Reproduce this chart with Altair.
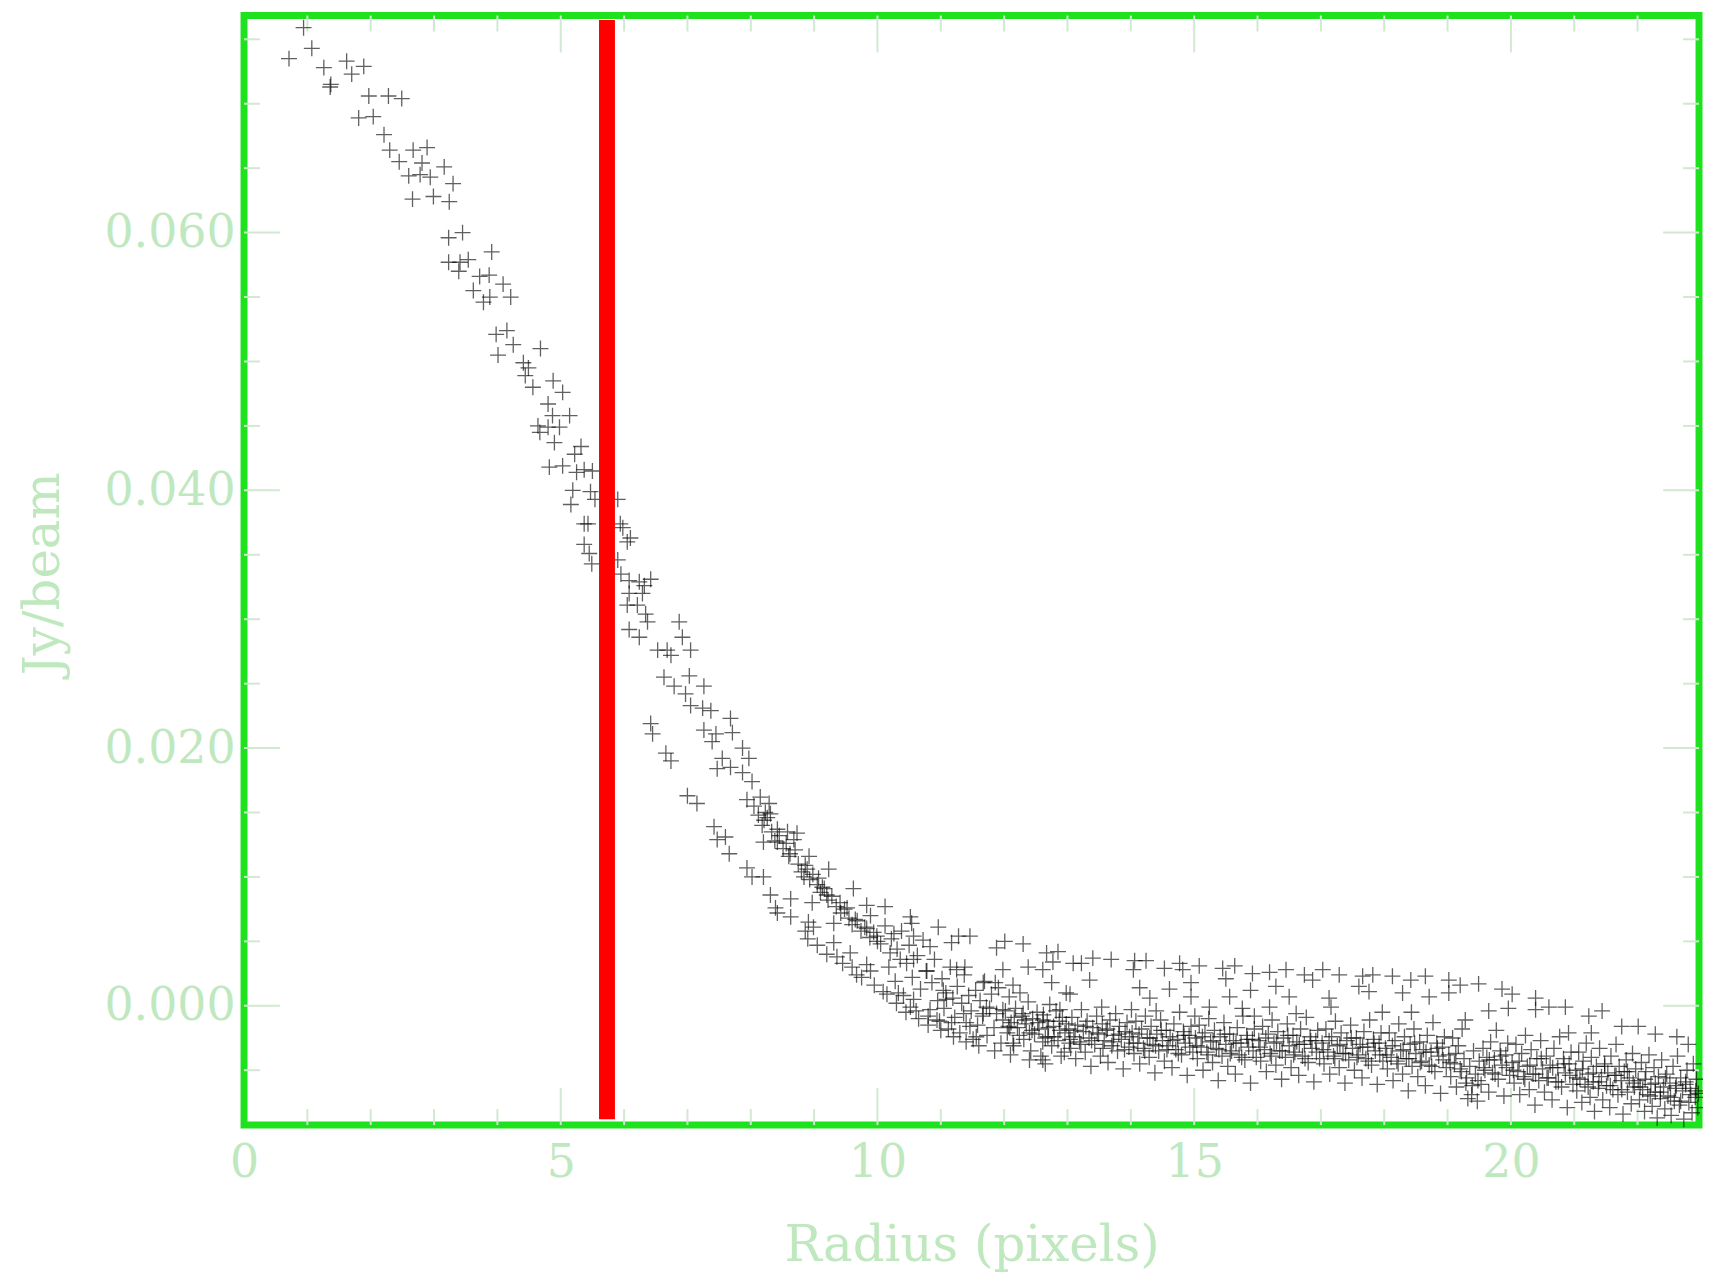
import altair as alt
import pandas as pd

# ---------------- data ----------------
x_label_values = [0, 5, 10, 15, 20]
y_label_values = [0.0, 0.02, 0.04, 0.06]
x_major_ticks = [5, 10, 15, 20]
x_minor_ticks = [1, 2, 3, 4, 6, 7, 8, 9, 11, 12, 13, 14, 16, 17, 18, 19, 21, 22]
y_major_ticks = [0.0, 0.02, 0.04, 0.06]
y_minor_ticks = [-0.005, 0.005, 0.01, 0.015, 0.025, 0.03, 0.035, 0.045, 0.05, 0.055, 0.065, 0.07, 0.075]

marker_radius_x = [5.73]
marker_y_top = [0.0765]
marker_y_bottom = [-0.0088]

core = [
    (0.94,0.0759),(1.07,0.0743),(0.71,0.0735),(1.26,0.0728),(1.62,0.0733),(1.89,0.0729),(1.70,0.0723),
    (1.37,0.0715),(1.36,0.0713),(1.97,0.0706),(2.28,0.0706),(2.49,0.0704),(1.81,0.0689),(2.04,0.0690),
    (2.21,0.0676),(2.30,0.0664),(2.67,0.0664),(2.89,0.0666),(2.45,0.0655),(2.81,0.0654),(3.16,0.0651),
    (2.60,0.0644),(2.78,0.0645),(2.94,0.0643),(3.30,0.0638),(2.66,0.0626),(2.99,0.0628),(3.24,0.0624),
    (3.23,0.0596),(3.45,0.0600),(3.23,0.0577),(3.41,0.0577),(3.54,0.0579),(3.91,0.0585),(3.39,0.0570),
    (3.72,0.0566),(3.87,0.0567),(4.09,0.0560),(3.62,0.0555),(3.88,0.0550),(3.78,0.0546),(4.21,0.0550),
    (3.98,0.0521),(4.15,0.0524),(4.25,0.0513),(4.68,0.0510),(4.01,0.0505),(4.41,0.0499),(4.49,0.0495),
    (4.44,0.0489),(4.56,0.0480),(4.88,0.0485),(5.03,0.0476),
]

slope = [
    (4.80,0.0467),(4.87,0.0458),(5.14,0.0458),(4.64,0.0450),(4.80,0.0449),(4.98,0.0449),(4.67,0.0445),
    (4.90,0.0437),(5.32,0.0434),(5.22,0.0428),(4.82,0.0418),(5.03,0.0419),(5.25,0.0414),(5.37,0.0416),
    (5.50,0.0415),(5.19,0.0400),(5.47,0.0399),(5.54,0.0393),(5.16,0.0389),(5.90,0.0393),(5.43,0.0374),
    (5.37,0.0374),(5.94,0.0374),(5.98,0.0371),(6.10,0.0363),(6.05,0.0360),(5.37,0.0358),(5.45,0.0351),
    (5.49,0.0343),(5.90,0.0346),(5.95,0.0335),(6.08,0.0330),(6.24,0.0329),(6.42,0.0331),(6.32,0.0326),
    (6.08,0.0320),(6.29,0.0320),(6.05,0.0311),(6.21,0.0311),(6.34,0.0304),(6.37,0.0298),(6.08,0.0292),
    (6.24,0.0286),(6.87,0.0298),(6.92,0.0286),(6.53,0.0276),(6.68,0.0276),(6.74,0.0272),(7.05,0.0276),
    (6.63,0.0255),(7.03,0.0256),(6.79,0.0248),(6.97,0.0242),(7.26,0.0248),(7.05,0.0233),(7.24,0.0231),
    (7.37,0.0229),(6.42,0.0219),(6.45,0.0211),(7.68,0.0223),(7.26,0.0214),(7.45,0.0211),(7.71,0.0212),
    (7.39,0.0205),(7.87,0.0200),(6.66,0.0196),(6.74,0.0190),(7.55,0.0192),(7.97,0.0192),(7.47,0.0184),
    (7.68,0.0185),(7.87,0.0181),
]

knee = [
    (7.00,0.0163),(7.15,0.0157),(8.02,0.0174),(7.94,0.0160),(8.15,0.0162),(8.29,0.0157),(8.23,0.0150),
    (8.31,0.0149),(8.21,0.0144),(7.42,0.0139),(7.47,0.0129),(7.60,0.0131),(7.66,0.0118),(8.42,0.0137),
    (8.58,0.0135),(8.73,0.0134),(8.68,0.0129),(8.42,0.0127),(8.20,0.0127),(8.60,0.0116),(8.92,0.0116),
    (7.94,0.0107),(8.02,0.0100),(8.20,0.0100),(8.89,0.0106),(9.23,0.0106),(8.84,0.0100),(9.07,0.0099),
    (9.13,0.0092),(9.62,0.0091),(9.20,0.0086),(8.31,0.0086),(8.63,0.0083),(8.97,0.0080),(9.41,0.0080),
    (9.52,0.0076),(9.83,0.0078),(10.12,0.0077),(8.39,0.0076),(8.42,0.0072),(8.63,0.0069),(8.91,0.0065),
    (8.99,0.0061),(8.86,0.0058),(9.31,0.0064),(9.65,0.0067),(9.89,0.0070),(9.83,0.0060),(9.99,0.0054),
    (10.26,0.0056),(10.52,0.0069),(10.54,0.0064),(10.96,0.0061),(10.57,0.0054),(9.31,0.0049),(9.57,0.0041),
    (9.36,0.0038),(9.83,0.0032),(9.89,0.0027),(9.67,0.0024),(10.20,0.0041),(10.36,0.0036),(10.57,0.0036),
    (10.83,0.0046),(10.78,0.0027),(11.17,0.0049),(11.28,0.0054),(11.46,0.0054),(11.25,0.0028),(11.38,0.0030),
    (11.88,0.0045),(12.01,0.0050),(12.30,0.0048),(12.67,0.0041),(12.85,0.0042),(12.77,0.0034),(12.38,0.0030),
    (12.61,0.0028),(11.98,0.0028),(12.75,0.0018),(12.14,0.0016),(11.86,0.0018),(11.67,0.0018),(10.09,0.0011),
    (10.33,0.0010),(10.57,0.0005),(10.52,-0.0001),(10.83,-0.0003),(11.04,0.0012),(11.09,0.0005),(10.94,-0.0011),
    (11.17,-0.0013),(11.36,-0.0006),(11.46,-0.0016),(11.72,-0.0001),(11.67,-0.0006),(11.56,-0.0024),
    (11.98,-0.0003),(12.09,-0.0017),(12.30,-0.0006),(12.40,-0.0021),(12.14,-0.0029),(12.61,-0.0011),
    (12.69,-0.0024),(12.61,-0.0042),(12.90,-0.0039),(13.03,-0.0029),(12.98,0.0010),(12.88,-0.0003),(13.09,0.0033),
]

upper_arm = [
    (8.05,0.0155),(8.12,0.0148),(8.18,0.0140),(8.26,0.0146),(8.33,0.0135),(8.38,0.0128),(8.45,0.0132),
    (8.51,0.0122),(8.56,0.0126),(8.62,0.0118),(8.70,0.0121),(8.75,0.0110),(8.80,0.0104),(8.86,0.0109),
    (8.93,0.0098),(8.98,0.0102),(9.05,0.0094),(9.10,0.0088),(9.16,0.0091),(9.22,0.0082),(9.28,0.0085),
    (9.35,0.0077),(9.42,0.0072),(9.48,0.0075),(9.55,0.0068),(9.60,0.0063),(9.68,0.0066),(9.74,0.0058),
    (9.80,0.0061),(9.88,0.0053),(9.94,0.0057),(10.00,0.0050),
]

lower_arm = [
    (8.90,0.0052),(9.05,0.0047),(9.20,0.0040),(9.45,0.0033),(9.60,0.0030),(9.75,0.0022),(9.95,0.0016),
    (10.15,0.0009),(10.30,0.0002),(10.45,-0.0005),(10.65,-0.0010),(10.80,-0.0015),(11.00,-0.0019),
    (11.20,-0.0024),(11.40,-0.0028),(11.60,-0.0031),(11.85,-0.0035),(12.10,-0.0038),(12.40,-0.0042),
    (12.65,-0.0045),
]

plateau = [
    (13.22,0.0033),(13.40,0.0037),(13.69,0.0036),(14.06,0.0035),(14.24,0.0035),(14.04,0.0028),(14.53,0.0029),
    (14.77,0.0033),(14.82,0.0028),(15.08,0.0031),(15.45,0.0029),(15.64,0.0031),(15.50,0.0021),(15.92,0.0025),
    (16.19,0.0026),(16.45,0.0028),(16.29,0.0015),(16.74,0.0024),(16.87,0.0020),(17.03,0.0028),(17.29,0.0024),
    (17.66,0.0023),(17.82,0.0024),(17.60,0.0015),(17.76,0.0011),(13.35,0.0020),(13.04,0.0009),(14.14,0.0014),
    (14.30,0.0006),(14.61,0.0013),(14.95,0.0018),(14.95,0.0007),(13.54,-0.0001),(14.01,-0.0003),(14.40,-0.0004),
    (15.24,-0.0001),(15.01,-0.0008),(15.56,0.0007),(15.76,-0.0002),(15.89,0.0012),(16.19,-0.0001),(16.50,0.0007),
    (16.61,-0.0006),(17.16,-0.0001),(17.13,0.0006),(15.95,-0.0008),
    (18.13,0.0023),(18.42,0.0020),(18.65,0.0023),(18.29,0.0010),(18.71,0.0007),(19.02,0.0020),(19.20,0.0016),
    (19.49,0.0017),(19.02,0.0010),(19.86,0.0013),(20.02,0.0009),(19.65,-0.0004),(19.96,-0.0002),(20.39,0.0006),
    (20.60,-0.0001),(20.86,-0.0001),(20.39,-0.0003),(21.23,-0.0008),(21.44,-0.0004),(21.75,-0.0016),
    (22.01,-0.0016),(22.28,-0.0022),(22.62,-0.0024),(22.80,-0.0030),(17.97,-0.0005),(18.43,-0.0005),
    (19.28,-0.0011),(20.91,-0.0021),(21.27,-0.0021),
]

band_10 = [(10.05,0.0048),(10.12,0.0062),(10.18,0.0030),(10.22,0.0052),(10.28,0.0019),(10.31,0.0044),(10.38,0.0058),
           (10.41,0.0008),(10.46,0.0033),(10.50,0.0047),(10.55,0.0022),(10.61,-0.0004),(10.63,0.0039),(10.68,0.0013),
           (10.72,0.0051),(10.77,0.0027),(10.80,-0.0008),(10.86,0.0018),(10.90,0.0036),(10.95,0.0004),(10.98,-0.0012)]
band_11 = [(11.02,0.0021),(11.05,-0.0002),(11.08,0.0010),(11.12,-0.0018),(11.15,0.0030),(11.19,0.0006),(11.22,-0.0009),
           (11.26,0.0015),(11.30,-0.0021),(11.33,0.0002),(11.37,0.0024),(11.40,-0.0013),(11.44,0.0008),(11.48,-0.0004),
           (11.51,-0.0026),(11.55,0.0012),(11.58,-0.0015),(11.62,0.0004),(11.66,-0.0008),(11.69,0.0019),(11.73,-0.0023),
           (11.77,-0.0002),(11.80,0.0009),(11.84,-0.0017),(11.88,-0.0006),(11.91,0.0014),(11.95,-0.0029),(11.98,-0.0011)]
band_12 = [(12.02,-0.0004),(12.05,-0.0021),(12.08,0.0007),(12.11,-0.0013),(12.15,-0.0031),(12.18,-0.0002),(12.21,-0.0017),
           (12.25,0.0010),(12.28,-0.0008),(12.31,-0.0026),(12.35,-0.0014),(12.38,0.0003),(12.42,-0.0035),(12.45,-0.0010),
           (12.48,-0.0022),(12.52,-0.0005),(12.55,-0.0018),(12.58,-0.0039),(12.62,-0.0007),(12.65,-0.0025),(12.68,-0.0012),
           (12.72,0.0001),(12.75,-0.0031),(12.78,-0.0016),(12.82,-0.0004),(12.85,-0.0027),(12.88,-0.0019),(12.92,-0.0009),
           (12.95,-0.0036),(12.98,-0.0014)]
band_13 = [(13.02,-0.0018),(13.05,-0.0033),(13.07,-0.0009),(13.10,-0.0024),(13.13,-0.0041),(13.16,-0.0015),(13.19,-0.0028),
           (13.22,-0.0003),(13.25,-0.0020),(13.28,-0.0036),(13.31,-0.0012),(13.34,-0.0025),(13.37,-0.0047),(13.40,-0.0017),
           (13.43,-0.0030),(13.46,-0.0008),(13.49,-0.0022),(13.52,-0.0039),(13.55,-0.0014),(13.58,-0.0027),(13.61,-0.0019),
           (13.64,-0.0044),(13.67,-0.0011),(13.70,-0.0031),(13.73,-0.0023),(13.76,-0.0006),(13.79,-0.0035),(13.82,-0.0016),
           (13.85,-0.0026),(13.88,-0.0049),(13.91,-0.0020),(13.94,-0.0013),(13.97,-0.0032)]
band_14 = [(14.02,-0.0021),(14.05,-0.0037),(14.08,-0.0012),(14.11,-0.0029),(14.14,-0.0045),(14.17,-0.0018),(14.20,-0.0033),
           (14.23,-0.0008),(14.26,-0.0025),(14.29,-0.0040),(14.32,-0.0016),(14.35,-0.0030),(14.38,-0.0052),(14.41,-0.0022),
           (14.44,-0.0035),(14.47,-0.0011),(14.50,-0.0027),(14.53,-0.0043),(14.56,-0.0019),(14.59,-0.0031),(14.62,-0.0024),
           (14.65,-0.0048),(14.68,-0.0014),(14.71,-0.0034),(14.74,-0.0026),(14.77,-0.0005),(14.80,-0.0038),(14.83,-0.0020),
           (14.86,-0.0029),(14.89,-0.0054),(14.92,-0.0023),(14.95,-0.0016),(14.98,-0.0036)]
band_15 = [(15.02,-0.0025),(15.05,-0.0041),(15.08,-0.0015),(15.11,-0.0032),(15.14,-0.0050),(15.17,-0.0021),(15.20,-0.0036),
           (15.23,-0.0010),(15.26,-0.0028),(15.29,-0.0044),(15.32,-0.0019),(15.35,-0.0033),(15.38,-0.0058),(15.41,-0.0024),
           (15.44,-0.0039),(15.47,-0.0013),(15.50,-0.0030),(15.53,-0.0047),(15.56,-0.0022),(15.59,-0.0035),(15.62,-0.0027),
           (15.65,-0.0053),(15.68,-0.0017),(15.71,-0.0038),(15.74,-0.0029),(15.77,-0.0008),(15.80,-0.0042),(15.83,-0.0023),
           (15.86,-0.0032),(15.89,-0.0060),(15.92,-0.0026),(15.95,-0.0018),(15.98,-0.0040)]
band_16 = [(16.02,-0.0027),(16.05,-0.0043),(16.08,-0.0016),(16.11,-0.0034),(16.14,-0.0051),(16.17,-0.0022),(16.20,-0.0037),
           (16.23,-0.0011),(16.26,-0.0029),(16.29,-0.0046),(16.32,-0.0020),(16.35,-0.0035),(16.38,-0.0057),(16.41,-0.0025),
           (16.44,-0.0040),(16.47,-0.0014),(16.50,-0.0031),(16.53,-0.0048),(16.56,-0.0023),(16.59,-0.0036),(16.62,-0.0028),
           (16.65,-0.0054),(16.68,-0.0018),(16.71,-0.0039),(16.74,-0.0030),(16.77,-0.0009),(16.80,-0.0044),(16.83,-0.0024),
           (16.86,-0.0033),(16.89,-0.0059),(16.92,-0.0027),(16.95,-0.0019),(16.98,-0.0041)]
band_17 = [(17.02,-0.0029),(17.05,-0.0045),(17.08,-0.0018),(17.11,-0.0036),(17.14,-0.0053),(17.17,-0.0024),(17.20,-0.0039),
           (17.23,-0.0012),(17.26,-0.0031),(17.29,-0.0048),(17.32,-0.0021),(17.35,-0.0037),(17.38,-0.0060),(17.41,-0.0027),
           (17.44,-0.0042),(17.47,-0.0015),(17.50,-0.0033),(17.53,-0.0050),(17.56,-0.0025),(17.59,-0.0038),(17.62,-0.0030),
           (17.65,-0.0056),(17.68,-0.0020),(17.71,-0.0041),(17.74,-0.0032),(17.77,-0.0011),(17.80,-0.0046),(17.83,-0.0026),
           (17.86,-0.0035),(17.89,-0.0061),(17.92,-0.0029),(17.95,-0.0021),(17.98,-0.0043)]
band_18 = [(18.02,-0.0033),(18.05,-0.0049),(18.08,-0.0021),(18.11,-0.0040),(18.14,-0.0058),(18.17,-0.0027),(18.20,-0.0043),
           (18.23,-0.0014),(18.26,-0.0035),(18.29,-0.0053),(18.32,-0.0024),(18.35,-0.0041),(18.38,-0.0066),(18.41,-0.0030),
           (18.44,-0.0047),(18.47,-0.0018),(18.50,-0.0037),(18.53,-0.0055),(18.56,-0.0028),(18.59,-0.0043),(18.62,-0.0034),
           (18.65,-0.0062),(18.68,-0.0023),(18.71,-0.0046),(18.74,-0.0036),(18.77,-0.0013),(18.80,-0.0051),(18.83,-0.0029),
           (18.86,-0.0039),(18.89,-0.0068),(18.92,-0.0032),(18.95,-0.0024),(18.98,-0.0048)]
band_19 = [(19.02,-0.0038),(19.05,-0.0055),(19.08,-0.0025),(19.11,-0.0045),(19.14,-0.0063),(19.17,-0.0031),(19.20,-0.0049),
           (19.23,-0.0018),(19.26,-0.0041),(19.29,-0.0060),(19.32,-0.0072),(19.35,-0.0047),(19.38,-0.0069),(19.41,-0.0035),
           (19.44,-0.0053),(19.47,-0.0074),(19.50,-0.0043),(19.53,-0.0061),(19.56,-0.0033),(19.59,-0.0050),(19.62,-0.0040),
           (19.65,-0.0067),(19.68,-0.0028),(19.71,-0.0052),(19.74,-0.0042),(19.77,-0.0019),(19.80,-0.0057),(19.83,-0.0035),
           (19.86,-0.0046),(19.89,-0.0070),(19.92,-0.0038),(19.95,-0.0029),(19.98,-0.0054)]
band_20 = [(20.02,-0.0044),(20.05,-0.0060),(20.08,-0.0030),(20.11,-0.0051),(20.14,-0.0069),(20.17,-0.0037),(20.20,-0.0055),
           (20.23,-0.0023),(20.26,-0.0047),(20.29,-0.0065),(20.32,-0.0034),(20.35,-0.0053),(20.38,-0.0077),(20.41,-0.0041),
           (20.44,-0.0058),(20.47,-0.0027),(20.50,-0.0049),(20.53,-0.0067),(20.56,-0.0039),(20.59,-0.0056),(20.62,-0.0046),
           (20.65,-0.0073),(20.68,-0.0033),(20.71,-0.0059),(20.74,-0.0048),(20.77,-0.0024),(20.80,-0.0063),(20.83,-0.0041),
           (20.86,-0.0052),(20.89,-0.0079),(20.92,-0.0045),(20.95,-0.0036),(20.98,-0.0061)]
band_21 = [(21.02,-0.0050),(21.04,-0.0066),(21.07,-0.0036),(21.09,-0.0057),(21.12,-0.0075),(21.14,-0.0043),(21.17,-0.0061),
           (21.19,-0.0029),(21.22,-0.0053),(21.25,-0.0071),(21.27,-0.0040),(21.30,-0.0059),(21.32,-0.0082),(21.35,-0.0047),
           (21.38,-0.0064),(21.40,-0.0033),(21.43,-0.0055),(21.45,-0.0073),(21.48,-0.0045),(21.51,-0.0062),(21.53,-0.0052),
           (21.56,-0.0079),(21.58,-0.0039),(21.61,-0.0065),(21.64,-0.0054),(21.66,-0.0030),(21.69,-0.0069),(21.71,-0.0047),
           (21.74,-0.0058),(21.77,-0.0084),(21.79,-0.0051),(21.82,-0.0042),(21.84,-0.0067),(21.87,-0.0056),(21.90,-0.0076),
           (21.92,-0.0037),(21.95,-0.0063),(21.97,-0.0049)]
band_22 = [(22.01,-0.0058),(22.03,-0.0073),(22.06,-0.0044),(22.08,-0.0065),(22.11,-0.0082),(22.13,-0.0051),(22.16,-0.0069),
           (22.18,-0.0038),(22.21,-0.0061),(22.23,-0.0078),(22.26,-0.0048),(22.28,-0.0067),(22.31,-0.0087),(22.33,-0.0055),
           (22.36,-0.0072),(22.38,-0.0042),(22.41,-0.0063),(22.43,-0.0080),(22.46,-0.0053),(22.48,-0.0070),(22.51,-0.0060),
           (22.53,-0.0085),(22.56,-0.0047),(22.58,-0.0074),(22.61,-0.0062),(22.63,-0.0039),(22.66,-0.0077),(22.68,-0.0056),
           (22.71,-0.0066),(22.73,-0.0088),(22.76,-0.0059),(22.78,-0.0050),(22.81,-0.0075),(22.83,-0.0064),(22.86,-0.0083),
           (22.88,-0.0045),(22.91,-0.0071),(22.93,-0.0057),(22.95,-0.0079),(22.96,-0.0068)]

band_core = [
    (12.07,-0.0016),(12.16,-0.0009),(12.24,-0.0023),(12.33,-0.0011),(12.44,-0.0019),(12.53,-0.0013),(12.61,-0.0028),
    (12.70,-0.0017),(12.79,-0.0024),(12.87,-0.0012),(12.96,-0.0021),
    (13.04,-0.0026),(13.12,-0.0019),(13.21,-0.0030),(13.29,-0.0016),(13.38,-0.0027),(13.47,-0.0021),(13.56,-0.0033),
    (13.63,-0.0018),(13.72,-0.0028),(13.81,-0.0022),(13.90,-0.0034),(13.98,-0.0024),
    (14.04,-0.0029),(14.13,-0.0022),(14.22,-0.0035),(14.30,-0.0025),(14.39,-0.0031),(14.48,-0.0019),(14.57,-0.0034),
    (14.66,-0.0027),(14.75,-0.0037),(14.84,-0.0023),(14.93,-0.0032),
    (15.04,-0.0031),(15.13,-0.0024),(15.22,-0.0038),(15.30,-0.0027),(15.39,-0.0034),(15.48,-0.0022),(15.57,-0.0037),
    (15.66,-0.0029),(15.75,-0.0040),(15.84,-0.0026),(15.93,-0.0035),
    (16.04,-0.0032),(16.13,-0.0025),(16.22,-0.0039),(16.30,-0.0028),(16.39,-0.0035),(16.48,-0.0023),(16.57,-0.0038),
    (16.66,-0.0030),(16.75,-0.0041),(16.84,-0.0027),(16.93,-0.0036),
    (17.04,-0.0034),(17.13,-0.0027),(17.22,-0.0041),(17.30,-0.0030),(17.39,-0.0037),(17.48,-0.0025),(17.57,-0.0040),
    (17.66,-0.0032),(17.75,-0.0043),(17.84,-0.0029),(17.93,-0.0038),
    (18.04,-0.0038),(18.13,-0.0031),(18.22,-0.0045),(18.30,-0.0034),(18.39,-0.0041),(18.48,-0.0029),(18.57,-0.0044),
    (18.66,-0.0036),(18.75,-0.0047),(18.84,-0.0033),(18.93,-0.0042),
    (19.04,-0.0044),(19.13,-0.0037),(19.22,-0.0051),(19.30,-0.0056),(19.39,-0.0062),(19.48,-0.0058),(19.57,-0.0048),
    (19.66,-0.0042),(19.75,-0.0053),(19.84,-0.0039),(19.93,-0.0048),
    (20.04,-0.0050),(20.13,-0.0043),(20.22,-0.0057),(20.30,-0.0046),(20.39,-0.0053),(20.48,-0.0041),(20.57,-0.0056),
    (20.66,-0.0048),(20.75,-0.0059),(20.84,-0.0045),(20.93,-0.0054),
    (21.04,-0.0056),(21.13,-0.0049),(21.22,-0.0063),(21.30,-0.0052),(21.39,-0.0059),(21.48,-0.0047),(21.57,-0.0062),
    (21.66,-0.0054),(21.75,-0.0065),(21.84,-0.0051),(21.93,-0.0060),
    (22.04,-0.0063),(22.12,-0.0057),(22.20,-0.0070),(22.28,-0.0060),(22.36,-0.0067),(22.44,-0.0056),(22.52,-0.0071),
    (22.60,-0.0064),(22.68,-0.0074),(22.76,-0.0061),(22.84,-0.0069),(22.92,-0.0066),
]

# ---------------- chart ----------------
W, H = 1461, 1114
X_DOMAIN = [0, 22.97]
Y_DOMAIN = [-0.00925, 0.07684]
FONT = "DejaVu Serif"
TEXT = "#bfe8bf"
TICK = "#d2e8d2"
FRAME = "#1fe21f"

all_pts = (core + slope + knee + upper_arm + lower_arm + plateau + band_10 + band_11 + band_12 + band_13
           + band_14 + band_15 + band_16 + band_17 + band_18 + band_19 + band_20 + band_21 + band_22
           + band_core)
df = pd.DataFrame(all_pts, columns=["x", "y"])

xs = alt.Scale(domain=X_DOMAIN, nice=False, zero=False)
ys = alt.Scale(domain=Y_DOMAIN, nice=False, zero=False)

x_axis = alt.Axis(values=x_label_values, format="d", title="Radius (pixels)", ticks=False, tickSize=0,
                  domain=False, grid=False, labelFlush=False, labelFont=FONT, labelFontSize=46,
                  labelColor=TEXT, labelPadding=16, titleFont=FONT, titleFontSize=50, titleColor=TEXT,
                  titleFontWeight="normal", titleX=W / 2, titleY=136, titleBaseline="alphabetic",
                  titleAlign="center")
y_axis = alt.Axis(values=y_label_values, format=".3f", title="Jy/beam", ticks=False, tickSize=0,
                  domain=False, grid=False, labelFont=FONT, labelFontSize=46, labelColor=TEXT,
                  labelPadding=9, titleFont=FONT, titleFontSize=50, titleColor=TEXT,
                  titleFontWeight="normal", titleAngle=270, titleX=-186, titleY=H / 2 + 3,
                  titleBaseline="alphabetic", titleAlign="center")

points = alt.Chart(df).mark_point(
    shape="M-1,0H1M0,-1V1", size=256, filled=False, stroke="#000000", strokeWidth=1.3, opacity=0.62
).encode(x=alt.X("x:Q", scale=xs, axis=x_axis), y=alt.Y("y:Q", scale=ys, axis=y_axis))


def x_ticks(vals, length, top):
    d = pd.DataFrame({"x": vals})
    y0, y1 = (0, length) if top else (H, H - length)
    return alt.Chart(d).mark_rule(color=TICK, strokeWidth=2).encode(
        x=alt.X("x:Q", scale=xs), y=alt.value(y0), y2=alt.value(y1))


def y_ticks(vals, length, right):
    d = pd.DataFrame({"y": vals})
    x0, x1 = (W, W - length) if right else (0, length)
    return alt.Chart(d).mark_rule(color=TICK, strokeWidth=2).encode(
        y=alt.Y("y:Q", scale=ys), x=alt.value(x0), x2=alt.value(x1))


tick_layers = [
    x_ticks(x_major_ticks, 37, False), x_ticks(x_minor_ticks, 16, False),
    x_ticks(x_major_ticks, 37, True), x_ticks(x_minor_ticks, 16, True),
    y_ticks(y_major_ticks, 36, False), y_ticks(y_minor_ticks, 16, False),
    y_ticks(y_major_ticks, 36, True), y_ticks(y_minor_ticks, 16, True),
]

red = alt.Chart(pd.DataFrame({"x": marker_radius_x, "y": marker_y_top, "y2": marker_y_bottom})).mark_rule(
    color="#ff0000", strokeWidth=16
).encode(x=alt.X("x:Q", scale=xs), y=alt.Y("y:Q", scale=ys), y2="y2:Q")

chart = alt.layer(*tick_layers, points, red).properties(
    width=W, height=H,
    autosize=alt.AutoSizeParams(type="none"),
    padding={"left": 237, "top": 5, "right": 4, "bottom": 150},
    background="#ffffff",
).configure_view(stroke=FRAME, strokeWidth=7)

chart.save("out.html", embed_options={"renderer": "svg", "actions": False})
